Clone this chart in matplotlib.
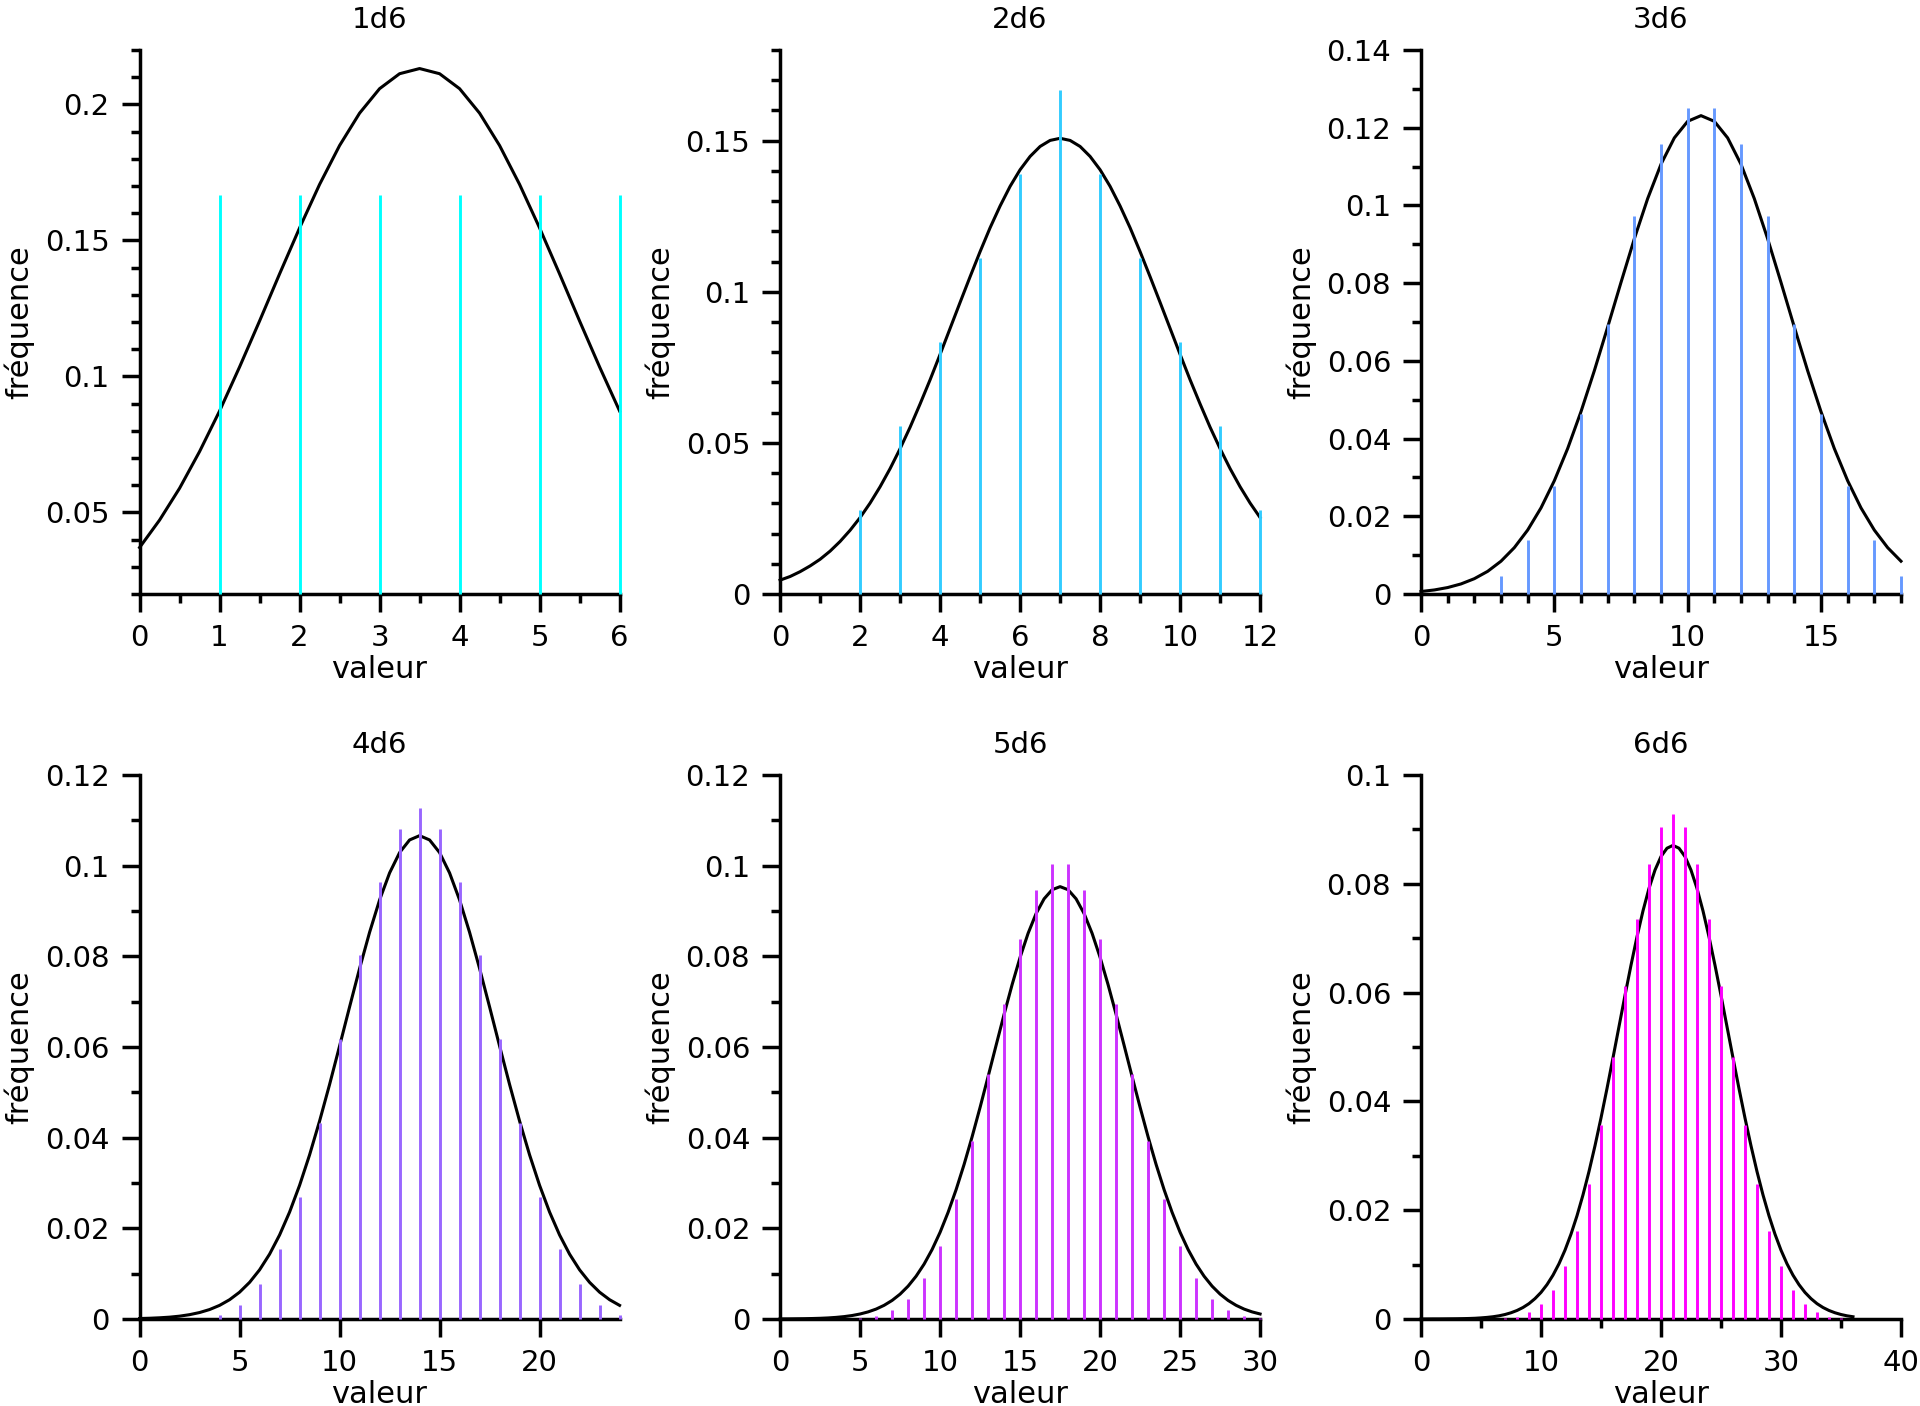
import matplotlib
matplotlib.use('Agg')
import matplotlib.pyplot as plt
from matplotlib.ticker import MultipleLocator, NullLocator, FuncFormatter
import numpy as np

plt.rcParams['font.family'] = 'DejaVu Sans'

titles = ['1d6', '2d6', '3d6', '4d6', '5d6', '6d6']
colors = ['#00ffff', '#33ccff', '#6699ff', '#9966ff', '#cc33ff', '#ff00ff']

# nombre de combinaisons pour chaque somme (de la plus petite a la plus grande)
counts_1d6 = [1, 1, 1, 1, 1, 1]
counts_2d6 = [1, 2, 3, 4, 5, 6, 5, 4, 3, 2, 1]
counts_3d6 = [1, 3, 6, 10, 15, 21, 25, 27, 27, 25, 21, 15, 10, 6, 3, 1]
counts_4d6 = [1, 4, 10, 20, 35, 56, 80, 104, 125, 140, 146, 140, 125, 104,
              80, 56, 35, 20, 10, 4, 1]
counts_5d6 = [1, 5, 15, 35, 70, 126, 205, 305, 420, 540, 651, 735, 780, 780,
              735, 651, 540, 420, 305, 205, 126, 70, 35, 15, 5, 1]
counts_6d6 = [1, 6, 21, 56, 126, 252, 456, 756, 1161, 1666, 2247, 2856, 3431,
              3906, 4221, 4332, 4221, 3906, 3431, 2856, 2247, 1666, 1161, 756,
              456, 252, 126, 56, 21, 6, 1]
totals = [6, 36, 216, 1296, 7776, 46656]
first_sum = [1, 2, 3, 4, 5, 6]

# courbe noire, valeurs relevees tous les `curve_step` a partir de 0
curve_step = [0.25, 0.25, 0.5, 0.5, 0.5, 0.5]
curve_1d6 = [0.0371, 0.0472, 0.0589, 0.0724, 0.0873, 0.1035, 0.1204, 0.1377,
             0.1546, 0.1706, 0.1849, 0.1968, 0.2058, 0.2113, 0.2132, 0.2113,
             0.2058, 0.1968, 0.1849, 0.1706, 0.1546, 0.1377, 0.1204, 0.1035,
             0.0873]
curve_2d6 = [0.0046, 0.0058, 0.0074, 0.0093, 0.0115, 0.0142, 0.0174, 0.0211,
             0.0253, 0.0301, 0.0355, 0.0415, 0.0481, 0.0552, 0.0629, 0.0709,
             0.0793, 0.0879, 0.0965, 0.1050, 0.1133, 0.1212, 0.1284, 0.1349,
             0.1404, 0.1448, 0.1481, 0.1501, 0.1508, 0.1501, 0.1481, 0.1448,
             0.1404, 0.1349, 0.1284, 0.1212, 0.1133, 0.1050, 0.0965, 0.0879,
             0.0793, 0.0709, 0.0629, 0.0552, 0.0481, 0.0415, 0.0355, 0.0301,
             0.0253]
curve_3d6 = [0.00065, 0.00105, 0.00167, 0.00260, 0.00395, 0.00584, 0.00845,
             0.01194, 0.01646, 0.02217, 0.02916, 0.03744, 0.04694, 0.05747,
             0.06870, 0.08020, 0.09143, 0.10176, 0.11061, 0.11739, 0.12166,
             0.12312, 0.12166, 0.11739, 0.11061, 0.10176, 0.09143, 0.08020,
             0.06870, 0.05747, 0.04694, 0.03744, 0.02916, 0.02217, 0.01646,
             0.01194, 0.00845]
curve_4d6 = [0.00010, 0.00016, 0.00026, 0.00040, 0.00062, 0.00095, 0.00142,
             0.00208, 0.00300, 0.00425, 0.00591, 0.00808, 0.01084, 0.01430,
             0.01853, 0.02358, 0.02948, 0.03620, 0.04366, 0.05173, 0.06021,
             0.06884, 0.07731, 0.08529, 0.09243, 0.09839, 0.10288, 0.10567,
             0.10662, 0.10567, 0.10288, 0.09839, 0.09243, 0.08529, 0.07731,
             0.06884, 0.06021, 0.05173, 0.04366, 0.03620, 0.02948, 0.02358,
             0.01853, 0.01430, 0.01084, 0.00808, 0.00591, 0.00425, 0.00300]
curve_5d6 = [0.00002, 0.00002, 0.00004, 0.00006, 0.00010, 0.00015, 0.00023,
             0.00035, 0.00052, 0.00076, 0.00110, 0.00156, 0.00218, 0.00301,
             0.00409, 0.00548, 0.00724, 0.00943, 0.01210, 0.01532, 0.01912,
             0.02352, 0.02852, 0.03409, 0.04018, 0.04669, 0.05347, 0.06037,
             0.06720, 0.07374, 0.07977, 0.08507, 0.08943, 0.09268, 0.09469,
             0.09537, 0.09469, 0.09268, 0.08943, 0.08507, 0.07977, 0.07374,
             0.06720, 0.06037, 0.05347, 0.04669, 0.04018, 0.03409, 0.02852,
             0.02352, 0.01912, 0.01532, 0.01210, 0.00943, 0.00724, 0.00548,
             0.00409, 0.00301, 0.00218, 0.00156, 0.00110]
curve_6d6 = [0.00000, 0.00000, 0.00001, 0.00001, 0.00002, 0.00003, 0.00004,
             0.00006, 0.00009, 0.00013, 0.00020, 0.00029, 0.00041, 0.00058,
             0.00082, 0.00114, 0.00156, 0.00211, 0.00282, 0.00374, 0.00488,
             0.00631, 0.00805, 0.01015, 0.01265, 0.01559, 0.01897, 0.02281,
             0.02711, 0.03184, 0.03694, 0.04236, 0.04801, 0.05375, 0.05948,
             0.06503, 0.07026, 0.07502, 0.07915, 0.08252, 0.08501, 0.08654,
             0.08706, 0.08654, 0.08501, 0.08252, 0.07915, 0.07502, 0.07026,
             0.06503, 0.05948, 0.05375, 0.04801, 0.04236, 0.03694, 0.03184,
             0.02711, 0.02281, 0.01897, 0.01559, 0.01265, 0.01015, 0.00805,
             0.00631, 0.00488, 0.00374, 0.00282, 0.00211, 0.00156, 0.00114,
             0.00082, 0.00058, 0.00041]

counts = [counts_1d6, counts_2d6, counts_3d6, counts_4d6, counts_5d6, counts_6d6]
curves = [curve_1d6, curve_2d6, curve_3d6, curve_4d6, curve_5d6, curve_6d6]

# axes
xmax = [6, 12, 18, 24, 30, 40]
ylims = [(0.02, 0.22), (0, 0.18), (0, 0.14), (0, 0.12), (0, 0.12), (0, 0.1)]
xmajor = [1, 2, 5, 5, 5, 10]
xminor = [0.5, 1, 1, None, None, 5]
ymajor = [0.05, 0.05, 0.02, 0.02, 0.02, 0.02]

lefts = [0.0727, 0.4063, 0.7401]
bottoms = [0.5775, 0.0619]
width, height = 0.25, 0.3869


def fmt_y(v, pos):
    s = '{:.2f}'.format(v).rstrip('0').rstrip('.')
    return s


fig = plt.figure(figsize=(19.2, 14.06), dpi=100)

for i in range(6):
    ax = fig.add_axes([lefts[i % 3], bottoms[i // 3], width, height])
    ylo, yhi = ylims[i]

    # courbe
    cx = np.arange(len(curves[i])) * curve_step[i]
    ax.plot(cx, curves[i], color='black', lw=2.2, zorder=2, clip_on=False)

    # batons
    sx = np.arange(len(counts[i])) + first_sum[i]
    sy = np.array(counts[i]) / totals[i]
    ax.vlines(sx, ylo, sy, colors=colors[i], lw=2.1, zorder=3, clip_on=False)

    ax.set_xlim(0, xmax[i])
    ax.set_ylim(ylo, yhi)

    ax.spines['top'].set_visible(False)
    ax.spines['right'].set_visible(False)
    ax.spines['left'].set_linewidth(2.5)
    ax.spines['bottom'].set_linewidth(2.5)

    ax.xaxis.set_major_locator(MultipleLocator(xmajor[i]))
    if xminor[i] is None:
        ax.xaxis.set_minor_locator(NullLocator())
    else:
        ax.xaxis.set_minor_locator(MultipleLocator(xminor[i]))
    ax.yaxis.set_major_locator(MultipleLocator(ymajor[i]))
    ax.yaxis.set_minor_locator(MultipleLocator(0.01))
    ax.yaxis.set_major_formatter(FuncFormatter(fmt_y))

    ax.tick_params(which='major', direction='out', length=13.3, width=2.5,
                   labelsize=21, pad=8.2)
    ax.tick_params(which='minor', direction='out', length=6.8, width=2.5)

    ax.set_title(titles[i], fontsize=21, pad=16)
    ax.set_xlabel('valeur', fontsize=22, labelpad=2.5)
    ax.set_ylabel('fréquence', fontsize=22, labelpad=7.5)

fig.savefig('out.png', dpi=100)
